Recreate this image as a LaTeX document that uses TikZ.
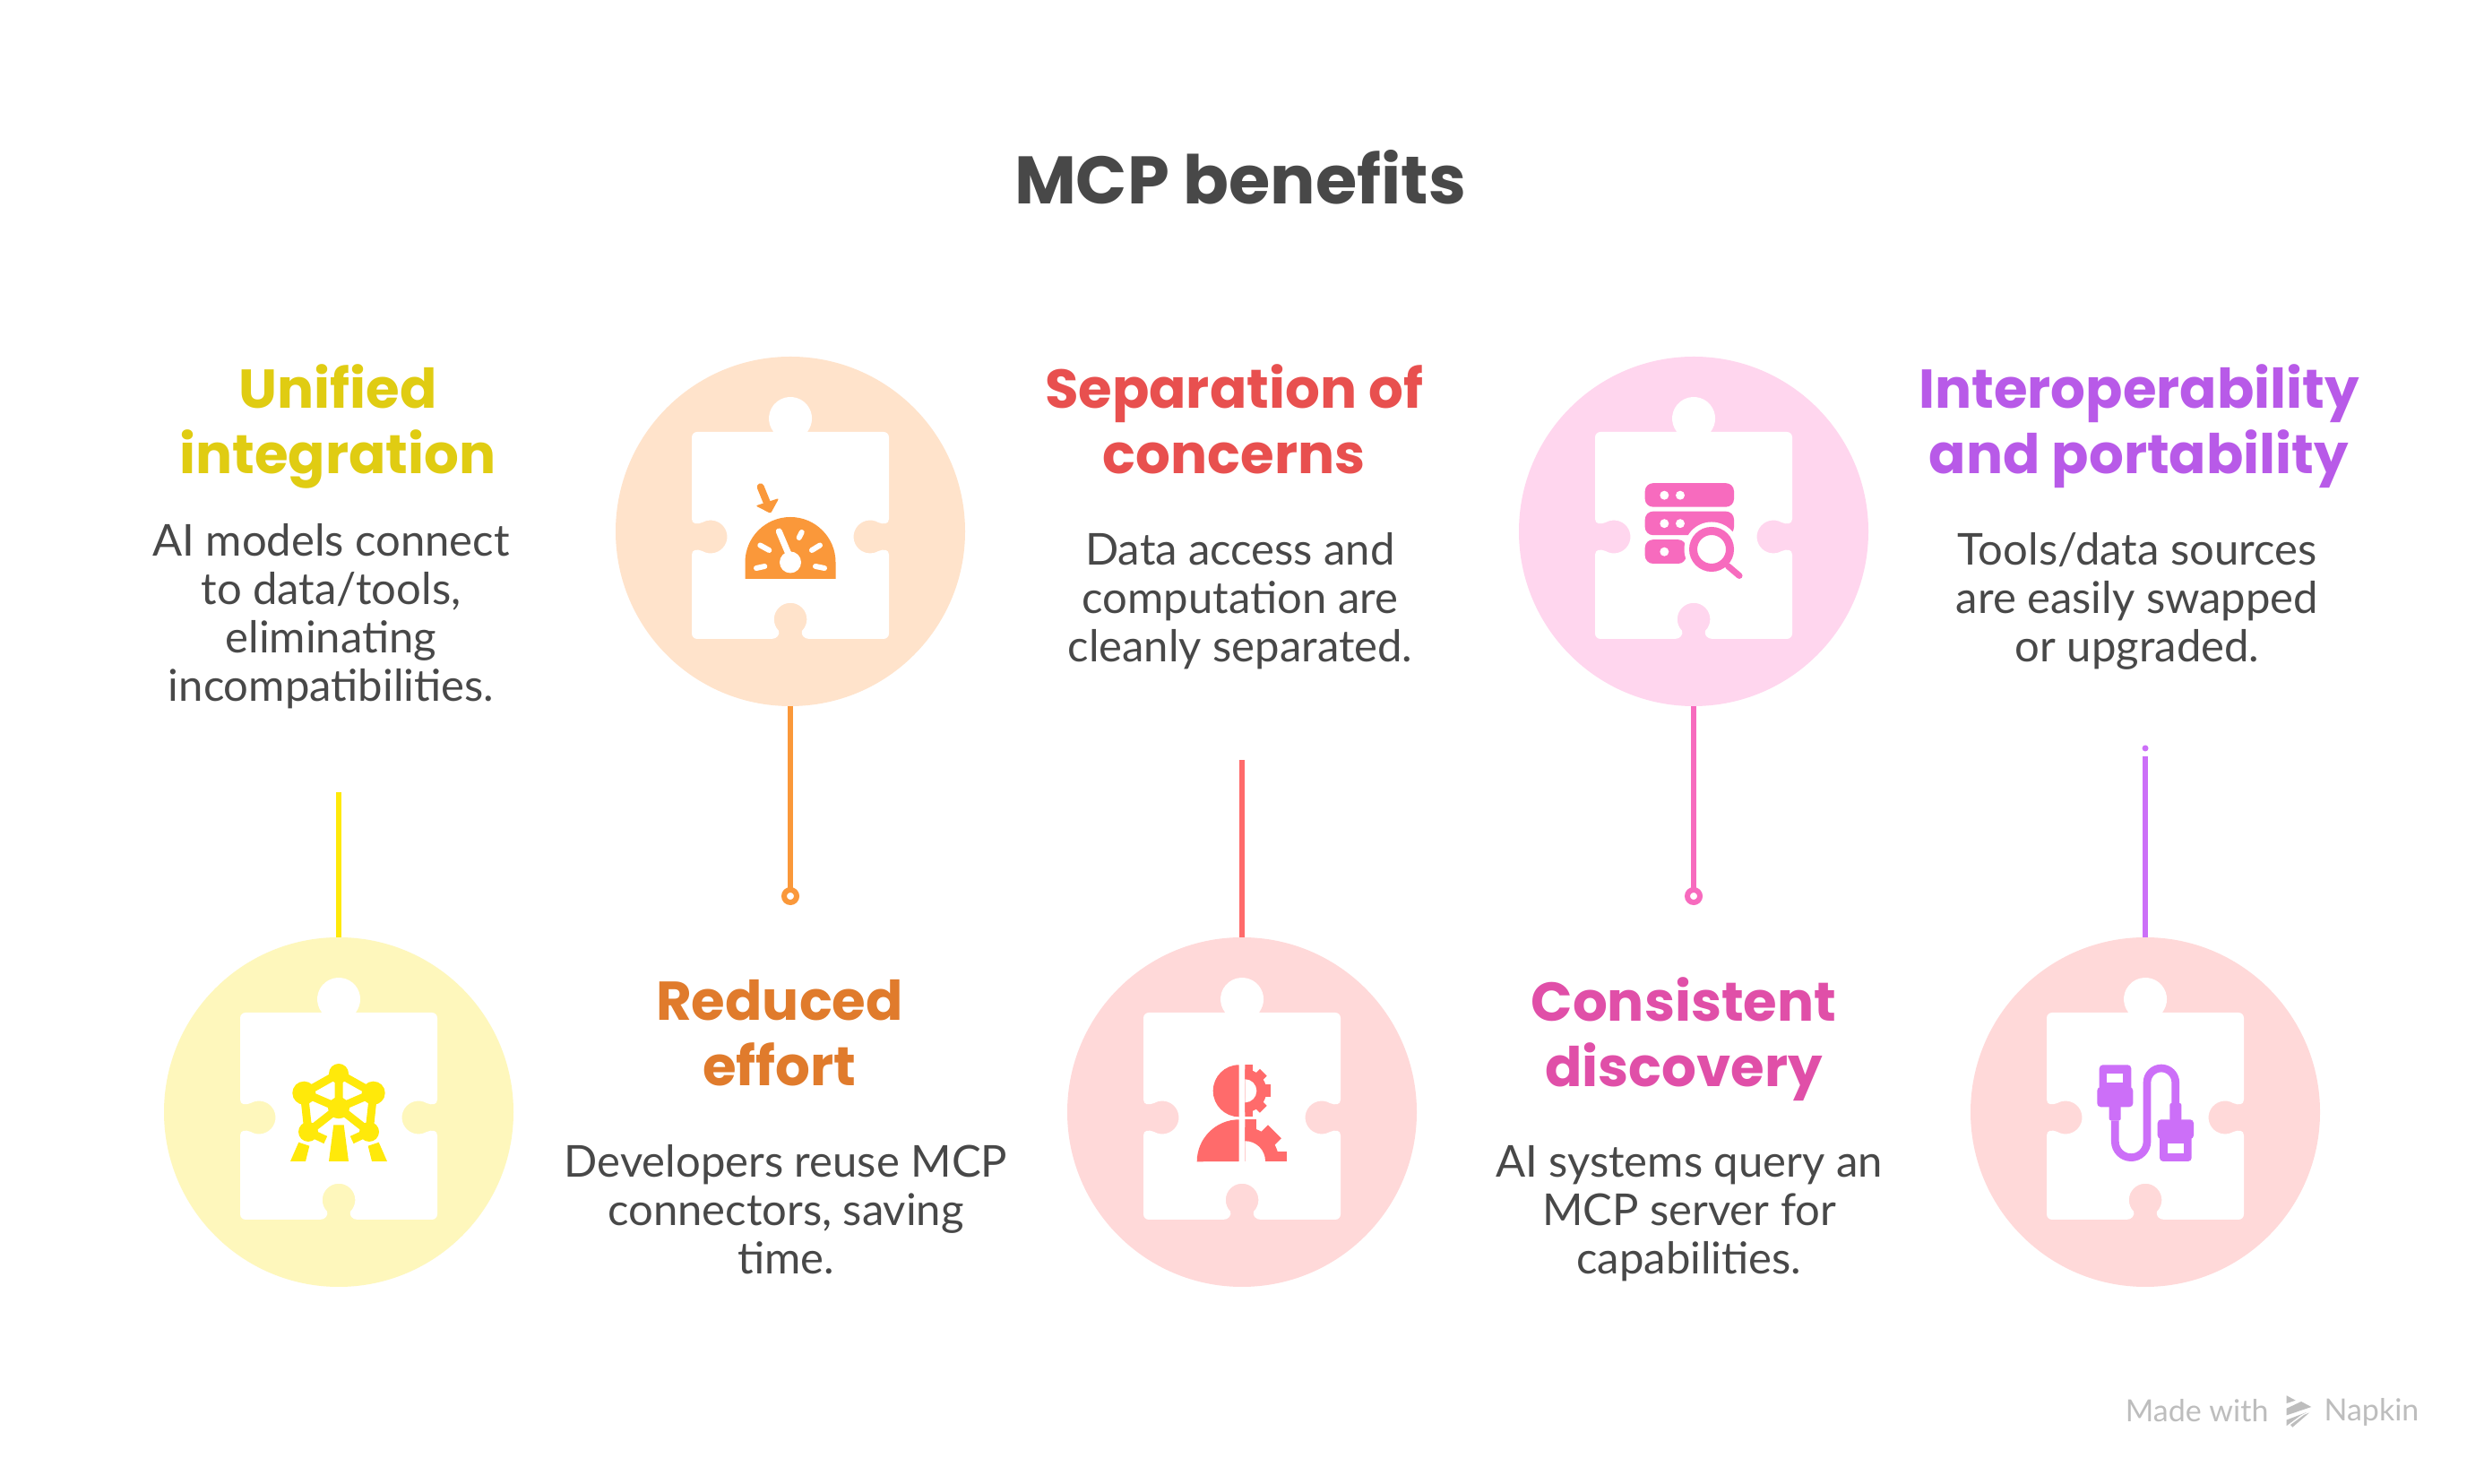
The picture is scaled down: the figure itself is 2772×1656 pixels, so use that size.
\documentclass[tikz,border=0pt]{standalone}
\usepackage{fontspec}
\setmainfont{Lato}
\newfontfamily\headfont{Poppins}
\definecolor{inkc}{HTML}{484848}
\definecolor{ylw}{HTML}{FFE90A}
\definecolor{ylwpale}{HTML}{FEF7BC}
\definecolor{ylwtext}{HTML}{E0CC12}
\definecolor{org}{HTML}{FA983A}
\definecolor{orgpale}{HTML}{FFE3CB}
\definecolor{orgtext}{HTML}{E07B2C}
\definecolor{redc}{HTML}{FF6B6B}
\definecolor{redpale}{HTML}{FFD9D9}
\definecolor{redtext}{HTML}{E8504F}
\definecolor{pnk}{HTML}{F76BBE}
\definecolor{pnkpale}{HTML}{FFD6EE}
\definecolor{pnktext}{HTML}{E04FA8}
\definecolor{prp}{HTML}{CC6FF8}
\definecolor{prptext}{HTML}{B85AE8}
\definecolor{markc}{HTML}{BDBDBD}
\tikzset{
  puzzle/.pic={
    \fill[white] (-104,111) -- (-18.7,111) arc[start angle=218.7,end angle=-38.7,radius=24]
      -- (104,111) arc[start angle=90,end angle=0,radius=6]
      -- (110,14) .. controls (110,8) and (104,7.5) .. (98.25,10)
      arc[start angle=60,end angle=300,radius=18.5]
      .. controls (104,-19.5) and (110,-20) .. (110,-26)
      -- (110,-114) arc[start angle=0,end angle=-90,radius=6]
      -- (21,-120) .. controls (15,-120) and (11.5,-115) .. (13,-111)
      arc[start angle=-45,end angle=225,radius=18.3]
      .. controls (-11.5,-115) and (-15,-120) .. (-21,-120)
      -- (-104,-120) arc[start angle=270,end angle=180,radius=6]
      -- (-110,-26) .. controls (-110,-20) and (-104,-19.5) .. (-98.25,-22)
      arc[start angle=240,end angle=480,radius=18.5]
      .. controls (-104,7.5) and (-110,8) .. (-110,14)
      -- (-110,105) arc[start angle=180,end angle=90,radius=6] -- cycle;
  },
  atomium/.pic={
    \draw[ylw,line width=9pt] (-38.7,21.3) -- (0,43) -- (38.7,21.3) -- (34,-22) -- (14.7,-31);
    \draw[ylw,line width=9pt] (-38.7,21.3) -- (-34,-22) -- (-14.7,-31);
    \draw[ylw,line width=9pt] (0,43) -- (0,4.7) (-38.7,21.3) -- (0,4.7) -- (38.7,21.3) (-34,-22) -- (0,4.7) -- (34,-22);
    \fill[ylw] (0,43) circle (11) (-38.7,21.3) circle (13) (38.7,21.3) circle (13) (0,4.7) circle (12) (-34,-22) circle (11) (34,-22) circle (11);
    \fill[white] (-5.7,-14.3) -- (5.7,-14.3) -- (5.7,-8) -- (-5.7,-8) -- cycle;
    \fill[ylw] (-44.7,-33.7) -- (-32.7,-37.7) -- (-37,-55) -- (-54,-55) -- cycle;
    \fill[ylw] (-5.7,-14.3) -- (5.7,-14.3) -- (11,-55) -- (-11,-55) -- cycle;
    \fill[ylw] (44.7,-33.7) -- (32.7,-37.7) -- (37,-55) -- (54,-55) -- cycle;
  },
  gauge/.pic={
    \fill[org] (-50.5,-53) -- (-50.5,-34.5) arc[start angle=180,end angle=0,radius=50.5] -- (50.5,-53) -- cycle;
    \draw[white,line width=7pt,line cap=round] (-12.7,0) -- (0,-30);
    \fill[white] (0,-34.5) circle (12);
    \draw[white,line width=6pt,line cap=round] (12.7,-1) -- (9.7,-7) (33,-15.5) -- (24,-21) (38,-41) -- (28,-39) (-23.7,-21) -- (-33.7,-15.5) (-28.7,-39) -- (-38,-41);
    \draw[org,line width=8pt,line cap=round] (-33.3,49.6) -- (-25.3,30);
    \fill[org,rounded corners=2pt] (-38.7,28.6) -- (-12.7,37) -- (-22,20) -- cycle;
  },
  server/.pic={
    \fill[pnk,rounded corners=9pt] (-54.3,27.3) rectangle (45,53.8);
    \fill[pnk,rounded corners=9pt] (-54.3,-4.2) rectangle (45,22.3);
    \fill[pnk,rounded corners=9pt] (-54.3,-36) rectangle (-8.3,-9.2);
    \fill[white] (-32.7,40.3) circle (5) (-15,40.3) circle (5) (-32.7,8.8) circle (5) (-15,8.8) circle (5) (-32.7,-22.7) circle (5);
    \fill[white] (20,-20) circle (30.5);
    \draw[pnk,line width=9pt] (20,-20) circle (20.5);
    \draw[pnk,line width=7pt,line cap=round] (38.3,-38.7) -- (51,-49.5);
  },
  person/.pic={
    \fill[redc] (-3.3,52.7) arc[start angle=90,end angle=270,radius=29] -- cycle;
    \fill[redc] (-3.3,-8.3) arc[start angle=90,end angle=180,radius=47] -- (-3.3,-55) -- cycle;
    \begin{scope}
      \clip (3.3,-6) rectangle (40,54);
      \fill[redc] (3.3,23.7) circle (24);
      \foreach \a/\w in {90/17,45/11,0/14,-45/11,-90/17}
        \draw[redc,line width=\w pt] (3.3,23.7) -- ++(\a:29);
      \fill[white] (3.3,23.7) circle (13);
    \end{scope}
    \begin{scope}
      \clip (3.3,-55) rectangle (54,-8);
      \fill[redc] (3.3,-55) circle (38);
      \foreach \a/\w in {90/26,45/21,0/21}
        \draw[redc,line width=\w pt] (3.3,-55) -- ++(\a:46.8);
      \fill[white] (3.3,-55) circle (22.7);
    \end{scope}
  },
  usbcable/.pic={
    \draw[prp,line width=8.7pt] (-33.7,-9.3) -- (-33.7,-32.8) arc[start angle=180,end angle=360,radius=17.85] -- (2,33.1) arc[start angle=180,end angle=0,radius=15.85] -- (33.7,5);
    \fill[prp,rounded corners=4pt] (-51.3,15) rectangle (-15.7,52.7);
    \fill[prp,rounded corners=4pt] (-53.7,5.7) rectangle (-13.7,28);
    \fill[prp,rounded corners=2pt] (-40.3,-9.3) rectangle (-27.3,8);
    \fill[white] (-42.7,32.7) rectangle (-24.7,43.3);
    \fill[prp,rounded corners=4pt] (16,-55) rectangle (51.7,-20);
    \fill[prp,rounded corners=4pt] (13.7,-30) rectangle (54,-8.3);
    \fill[prp,rounded corners=2pt] (27.3,-10) rectangle (40.3,10);
    \fill[white] (25,-46.3) rectangle (43,-35);
  },
  napkinlogo/.pic={
    \fill[markc] (-13.3,17.7) -- (-3.3,12.3) -- (-13.3,9) -- cycle;
    \fill[markc] (-13.3,3.3) -- (3,11) -- (14.3,5) -- (-13.3,-4.3) -- cycle;
    \fill[markc] (-13.3,-9.5) -- (9,-1) -- (3,-4) -- (-13.3,-16) -- cycle;
    \fill[markc] (-6.7,-17.7) -- (12,-1.5) -- (6,-4) -- (-9,-15) -- cycle;
  }
}
\begin{document}
\begin{tikzpicture}[x=1pt, y=1pt, node distance={504pt},
  main/.style = {circle, minimum size=390pt, inner sep=0pt, outer sep=0pt},
  title/.style = {font=\headfont\bfseries\fontsize{75}{88}\selectfont, text=inkc},
  head/.style = {font=\headfont\bfseries\fontsize{61}{73}\selectfont, align=center, inner sep=0pt, execute at begin node=\strut, execute at end node=\strut},
  body/.style = {font=\fontsize{49}{54}\selectfont, text=inkc, align=center, inner sep=0pt, execute at begin node=\strut, execute at end node=\strut},
  link/.style = {line width=6pt},
  ring/.style = {circle, draw, line width=6pt, minimum size=14pt, inner sep=0pt, outer sep=0pt}]
\useasboundingbox (0,0) rectangle (2772,1656);
\fill[white] (0,0) rectangle (2772,1656);
\node[title] (0) at (1384,1458) {MCP benefits};
\node[main, fill=ylwpale] (1) at (378,415) {};
\node[main, fill=orgpale] (2) [right of=1, yshift=648pt] {};
\node[main, fill=redpale] (3) [right of=2, yshift=-648pt] {};
\node[main, fill=pnkpale] (4) [right of=3, yshift=648pt] {};
\node[main, fill=redpale] (5) [right of=4, yshift=-648pt] {};
\pic at (1) {puzzle};
\pic at (2) {puzzle};
\pic at (3) {puzzle};
\pic at (4) {puzzle};
\pic at (5) {puzzle};
\pic at (1) {atomium};
\pic at (2) {gauge};
\pic at (3) {person};
\pic at (4) {server};
\pic at (5) {usbcable};
\coordinate[above of=1, node distance=357pt] (c1);
\node[ring, draw=org] (c2) [below of=2, node distance=407pt] {};
\coordinate[above of=3, node distance=393pt] (c3);
\node[ring, draw=pnk] (c4) [below of=4, node distance=407pt] {};
\coordinate[above of=5, node distance=397pt] (c5);
\node[circle, fill=prp, minimum size=7pt, inner sep=0pt] (d5) [above of=c5, node distance=9pt] {};
\draw[link, ylw] (1) -- (c1);
\draw[link, org] (2) -- (c2);
\draw[link, redc] (3) -- (c3);
\draw[link, pnk] (4) -- (c4);
\draw[link, prp] (5) -- (c5);
\node[head, text=ylwtext] (t1) [above of=1, node distance=762pt, xshift=-1pt] {Unified\\integration};
\node[head, text=orgtext] (t2) [below of=2, node distance=570pt, xshift=-12pt] {Reduced\\effort};
\node[head, text=redtext] (t3) [above of=3, node distance=762pt, xshift=-9pt] {Separation of\\concerns};
\node[head, text=pnktext] (t4) [below of=4, node distance=570pt, xshift=-11pt] {Consistent\\discovery};
\node[head, text=prptext] (t5) [above of=5, node distance=762pt, xshift=-7pt] {Interoperability\\and portability};
\node[body] (b1) [below of=t1, node distance=213pt, xshift=-7.5pt] {AI models connect\\to data/tools,\\eliminating\\incompatibilities.};
\node[body] (b2) [below of=t2, node distance=195pt, xshift=7pt] {Developers reuse MCP\\connectors, saving\\time.};
\node[body] (b3) [below of=t3, node distance=196pt, xshift=7pt] {Data access and\\computation are\\cleanly separated.};
\node[body] (b4) [below of=t4, node distance=195pt, xshift=6pt] {AI systems query an\\MCP server for\\capabilities.};
\node[body] (b5) [below of=t5, node distance=196pt, xshift=-2pt] {Tools/data sources\\are easily swapped\\or upgraded.};
\node[text=markc, font=\fontsize{34}{40}\selectfont, anchor=east] (m1) at (2535,82) {Made with};
\pic at (2565,81) {napkinlogo};
\node[text=markc, font=\fontsize{34}{40}\selectfont, anchor=west] (m2) at (2590,80) {Napkin};
\end{tikzpicture}
\end{document}
